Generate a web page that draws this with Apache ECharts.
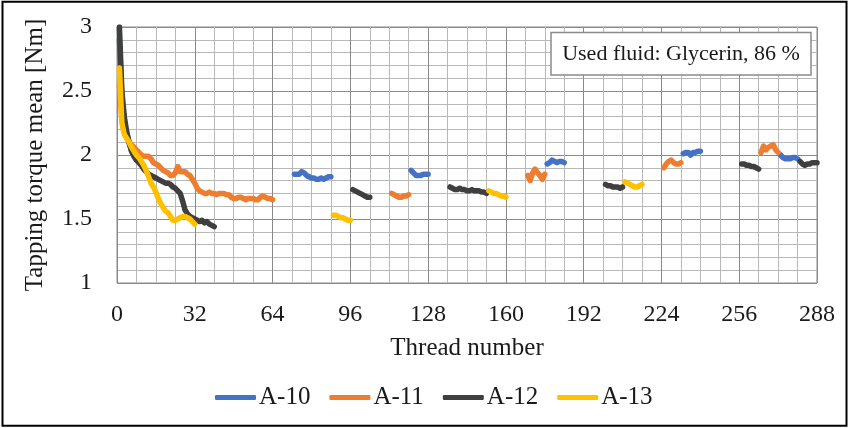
<!DOCTYPE html>
<html>
<head>
<meta charset="utf-8">
<title>Tapping torque mean</title>
<script src="https://cdn.jsdelivr.net/npm/echarts@6/dist/echarts.min.js"></script>
<style>
  html, body { margin: 0; padding: 0; background: #fff; }
  #chart { width: 849px; height: 428px; }
</style>
</head>
<body>
<div id="chart"></div>
<script>
// Thread-number axis ticks and torque axis ticks
const threadTicks = [0, 32, 64, 96, 128, 160, 192, 224, 256, 288];
const torqueTicks = [1, 1.5, 2, 2.5, 3];

const seriesNames = ['A-10', 'A-11', 'A-12', 'A-13'];

// Each tap: first thread number of every measured block, and the torque means [Nm] of that block
const a10Start = [1, 73, 121, 177, 233, 273];
const a10Torque = [
  [2.90, 2.45, 2.26, 2.16, 2.09, 2.03, 1.99, 1.96],
  [1.85, 1.85, 1.85, 1.87, 1.86, 1.84, 1.83, 1.82, 1.82, 1.81, 1.81, 1.82, 1.81, 1.82, 1.83, 1.83],
  [1.88, 1.86, 1.84, 1.84, 1.84, 1.85, 1.85, 1.85],
  [1.93, 1.94, 1.96, 1.95, 1.94, 1.95, 1.95, 1.94],
  [2.01, 2.02, 2.02, 2.00, 2.02, 2.02, 2.03, 2.03],
  [2.00, 1.98, 1.97, 1.97, 1.97, 1.98, 1.98, 1.97]
];

const a11Start = [1, 113, 169, 225, 265];
const a11Torque = [
  [2.55, 2.28, 2.18, 2.13, 2.10, 2.08, 2.06, 2.04, 2.02, 2.00,
   1.99, 1.99, 1.99, 1.97, 1.94, 1.93, 1.92, 1.90, 1.88, 1.87,
   1.86, 1.84, 1.84, 1.86, 1.91, 1.87, 1.87, 1.87, 1.85, 1.84,
   1.81, 1.78, 1.74, 1.72, 1.71, 1.70, 1.70, 1.71, 1.70, 1.70,
   1.69, 1.70, 1.70, 1.70, 1.69, 1.69, 1.67, 1.66, 1.66, 1.67,
   1.67, 1.66, 1.65, 1.66, 1.66, 1.66, 1.65, 1.65, 1.67, 1.68,
   1.67, 1.66, 1.66, 1.65],
  [1.70, 1.69, 1.68, 1.67, 1.67, 1.68, 1.68, 1.69],
  [1.84, 1.80, 1.86, 1.89, 1.86, 1.84, 1.81, 1.85],
  [1.90, 1.93, 1.95, 1.96, 1.94, 1.93, 1.93, 1.94],
  [2.02, 2.07, 2.04, 2.06, 2.07, 2.08, 2.04, 2.02]
];

const a12Start = [1, 97, 137, 201, 257, 281];
const a12Torque = [
  [3.00, 2.50, 2.30, 2.18, 2.10, 2.03, 1.99, 1.96, 1.94, 1.92,
   1.89, 1.87, 1.85, 1.84, 1.83, 1.82, 1.81, 1.80, 1.79, 1.78,
   1.78, 1.77, 1.75, 1.74, 1.72, 1.70, 1.64, 1.57, 1.54, 1.52,
   1.51, 1.50, 1.49, 1.48, 1.49, 1.47, 1.48, 1.46, 1.45, 1.44],
  [1.73, 1.72, 1.71, 1.70, 1.69, 1.68, 1.67, 1.67],
  [1.75, 1.74, 1.73, 1.73, 1.74, 1.73, 1.73, 1.72, 1.72, 1.73, 1.72, 1.72, 1.72, 1.71, 1.71, 1.70],
  [1.77, 1.76, 1.76, 1.75, 1.75, 1.75, 1.74, 1.75],
  [1.93, 1.93, 1.92, 1.92, 1.91, 1.91, 1.90, 1.89],
  [1.95, 1.93, 1.92, 1.93, 1.93, 1.94, 1.94, 1.94]
];

const a13Start = [1, 89, 153, 209];
const a13Torque = [
  [2.68, 2.25, 2.16, 2.13, 2.10, 2.06, 2.03, 2.00, 1.98, 1.95,
   1.92, 1.88, 1.83, 1.78, 1.75, 1.71, 1.66, 1.62, 1.59, 1.56,
   1.55, 1.52, 1.49, 1.49, 1.50, 1.51, 1.52, 1.52, 1.51, 1.50,
   1.48, 1.46],
  [1.53, 1.53, 1.52, 1.51, 1.51, 1.50, 1.49, 1.49],
  [1.72, 1.71, 1.70, 1.70, 1.69, 1.68, 1.68, 1.67],
  [1.79, 1.78, 1.77, 1.76, 1.75, 1.75, 1.76, 1.77]
];

const fluidNote = 'Used fluid: Glycerin, 86 %';

// Turn blocks into [thread, torque] pairs, with an empty point between blocks so the line breaks
function toPoints(starts, blocks) {
  const pts = [];
  blocks.forEach((vals, b) => {
    if (b > 0) pts.push([starts[b] - 0.5, null]);
    vals.forEach((v, i) => pts.push([starts[b] + i, v]));
  });
  return pts;
}

const colors = ['#4472C4', '#ED7D31', '#3F3F3F', '#FFC000'];
const serif = '"Liberation Serif", "Times New Roman", "DejaVu Serif", serif';
const textColor = '#1a1a1a';

const allPoints = [
  toPoints(a10Start, a10Torque),
  toPoints(a11Start, a11Torque),
  toPoints(a12Start, a12Torque),
  toPoints(a13Start, a13Torque)
];

const chart = echarts.init(document.getElementById('chart'), null, { renderer: 'canvas' });

chart.setOption({
  animation: false,
  backgroundColor: '#fff',
  color: colors,
  grid: {
    left: 117, top: 27, right: 32, bottom: 145,
    show: true, borderColor: '#8a8a8a', borderWidth: 1
  },
  xAxis: {
    type: 'value',
    min: threadTicks[0],
    max: threadTicks[threadTicks.length - 1],
    interval: threadTicks[1] - threadTicks[0],
    name: 'Thread number',
    nameLocation: 'middle',
    nameGap: 53,
    nameTextStyle: { fontFamily: serif, fontSize: 25, color: textColor },
    axisLine: { show: false },
    axisTick: { show: false },
    axisLabel: { fontFamily: serif, fontSize: 24, color: textColor, margin: 20 },
    splitLine: { show: true, lineStyle: { color: '#8a8a8a', width: 1 } },
    minorTick: { show: false, splitNumber: 4 },
    minorSplitLine: { show: true, lineStyle: { color: '#b8b8b8', width: 1 } }
  },
  yAxis: {
    type: 'value',
    min: torqueTicks[0],
    max: torqueTicks[torqueTicks.length - 1],
    interval: torqueTicks[1] - torqueTicks[0],
    name: 'Tapping torque mean [Nm]',
    nameLocation: 'middle',
    nameGap: 69,
    nameTextStyle: { fontFamily: serif, fontSize: 25, color: textColor },
    axisLine: { show: false },
    axisTick: { show: false },
    axisLabel: { fontFamily: serif, fontSize: 24, color: textColor, margin: 25 },
    splitLine: { show: true, lineStyle: { color: '#8a8a8a', width: 1 } },
    minorTick: { show: false, splitNumber: 5 },
    minorSplitLine: { show: true, lineStyle: { color: '#b8b8b8', width: 1 } }
  },
  legend: {
    data: seriesNames,
    left: 215,
    top: 385,
    padding: 0,
    icon: 'roundRect',
    itemWidth: 41,
    itemHeight: 5,
    itemGap: 19,
    textStyle: { fontFamily: serif, fontSize: 25, color: textColor, padding: [0, 0, 0, -2] }
  },
  graphic: [
    {
      type: 'rect',
      silent: true,
      z: 100,
      shape: { x: 2.5, y: 1.8, width: 844, height: 424 },
      style: { fill: 'none', stroke: '#000', lineWidth: 2 }
    },
    {
      type: 'rect',
      z: 100,
      shape: { x: 551, y: 32.5, width: 260, height: 42.5 },
      style: { fill: '#fff', stroke: '#8a8a8a', lineWidth: 1.5 }
    },
    {
      type: 'text',
      z: 101,
      x: 681, y: 54,
      style: {
        text: fluidNote,
        fontFamily: serif, fontSize: 22, fill: textColor,
        align: 'center', verticalAlign: 'middle'
      }
    }
  ],
  series: seriesNames.map((name, i) => ({
    name: name,
    type: 'line',
    data: allPoints[i],
    showSymbol: false,
    symbol: 'none',
    connectNulls: false,
    clip: true,
    lineStyle: { width: 5.5, color: colors[i], cap: 'round', join: 'round' },
    itemStyle: { color: colors[i] },
    z: 2 + i
  }))
});
</script>
</body>
</html>
